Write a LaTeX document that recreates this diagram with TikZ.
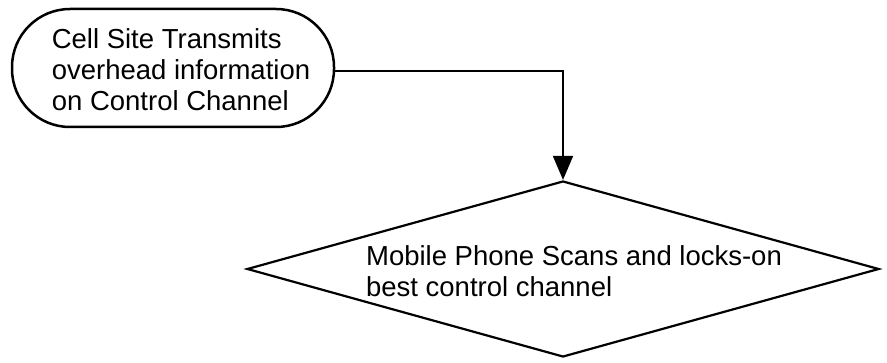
\documentclass[tikz,border=0pt]{standalone}
\usepackage{fontspec}
\setmainfont{Liberation Sans}
\usetikzlibrary{shapes.geometric,arrows.meta}
\begin{document}
\begin{tikzpicture}[x=1pt,y=1pt,
 box/.style={draw,line width=2.5pt,rounded corners=58pt,minimum width=322pt,minimum height=118pt,inner sep=0pt},
 dec/.style={draw,diamond,line width=2.2pt,minimum width=632pt,minimum height=176pt,inner sep=0pt},
 lbl/.style={align=left,font=\fontsize{27.5}{31}\selectfont,inner sep=0pt},
 conn/.style={line width=1.8pt,-{Triangle[width=20pt,length=24pt]}}]
\useasboundingbox (0,0) rectangle (887,362);
\node[box] (s) at (173,294) {};
\node[lbl] (st) at (181,292) {Cell Site Transmits\\overhead information\\on Control Channel};
\node[dec] (d) at (563,93) {};
\node[lbl] (t) at (574,91) {Mobile Phone Scans and locks-on\\best control channel};
\draw[conn] ([yshift=-3pt]s.east) -| (d.north);
\end{tikzpicture}
\end{document}
